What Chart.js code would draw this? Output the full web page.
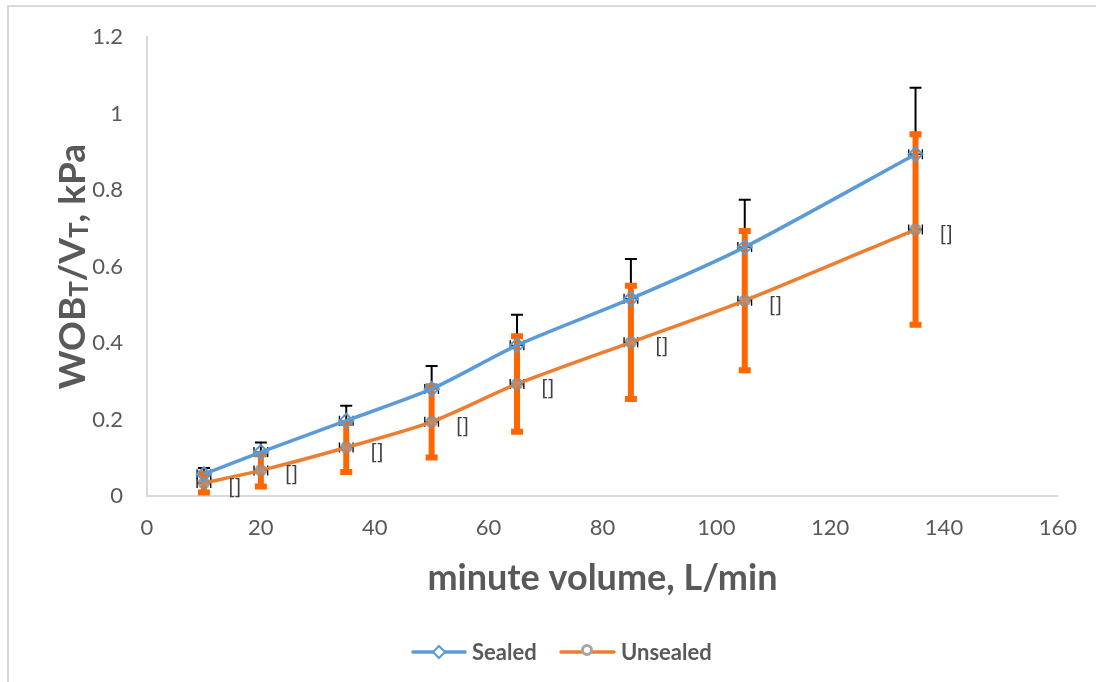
<!DOCTYPE html>
<html>
<head>
<meta charset="utf-8">
<script src="https://cdn.jsdelivr.net/npm/chart.js@4.4.1/dist/chart.umd.min.js"></script>
<style>
  html, body { margin: 0; padding: 0; background: #fff; }
  #wrap { width: 1096px; height: 682px; position: relative; }
</style>
</head>
<body>
<div id="wrap"><canvas id="chart" width="1096" height="682"></canvas></div>
<script>
// data
const minuteVolume = [10, 20, 35, 50, 65, 85, 105, 135];
const sealed = [0.057, 0.115, 0.197, 0.28, 0.394, 0.516, 0.651, 0.894];
const sealedErrUp = [0.016, 0.025, 0.039, 0.06, 0.08, 0.104, 0.124, 0.174];
const unsealed = [0.034, 0.067, 0.127, 0.194, 0.293, 0.402, 0.511, 0.697];
const unsealedErr = [0.025, 0.042, 0.064, 0.093, 0.125, 0.148, 0.182, 0.249];
const xErr = [1.2, 1.2, 1.2, 1.2, 1.2, 1.2, 1.2, 1.2];
const unsealedLabels = ['[]', '[]', '[]', '[]', '[]', '[]', '[]', '[]'];
const xTitle = 'minute volume, L/min';
const seriesNames = ['Sealed', 'Unsealed'];

const blue = '#5B9BD5';
const orange = '#ED7D31';
const errOrange = '#FF6600';
const grey = '#A5A5A5';
const textGrey = '#595959';
const FONT = 'Lato, "Open Sans", sans-serif';

function pts(ys) {
    return minuteVolume.map((x, i) => ({ x: x, y: ys[i] }));
}

// error bars, drawn under the lines and markers
const errorBarPlugin = {
    id: 'errorBars',
    beforeDatasetsDraw(chart) {
        const ctx = chart.ctx;
        const xs = chart.scales.x, ys = chart.scales.y;
        ctx.save();
        // small black x bars on every point
        ctx.strokeStyle = '#000';
        ctx.lineWidth = 1.3;
        [sealed, unsealed].forEach(arr => {
            minuteVolume.forEach((x, i) => {
                const py = ys.getPixelForValue(arr[i]);
                const l = xs.getPixelForValue(x - xErr[i]);
                const r = xs.getPixelForValue(x + xErr[i]);
                ctx.beginPath();
                ctx.moveTo(l, py); ctx.lineTo(r, py);
                ctx.moveTo(l, py - 5); ctx.lineTo(l, py + 5);
                ctx.moveTo(r, py - 5); ctx.lineTo(r, py + 5);
                ctx.stroke();
            });
        });
        // sealed: black, upper only
        ctx.lineWidth = 2;
        minuteVolume.forEach((x, i) => {
            const px = xs.getPixelForValue(x);
            const p0 = ys.getPixelForValue(sealed[i]);
            const p1 = ys.getPixelForValue(sealed[i] + sealedErrUp[i]);
            ctx.beginPath();
            ctx.moveTo(px, p0); ctx.lineTo(px, p1);
            ctx.moveTo(px - 6, p1); ctx.lineTo(px + 6, p1);
            ctx.stroke();
        });
        // unsealed: thick orange, both ways
        ctx.strokeStyle = errOrange;
        ctx.lineWidth = 6;
        minuteVolume.forEach((x, i) => {
            const px = xs.getPixelForValue(x);
            const lo = ys.getPixelForValue(unsealed[i] - unsealedErr[i]);
            const hi = ys.getPixelForValue(unsealed[i] + unsealedErr[i]);
            ctx.beginPath();
            ctx.moveTo(px, lo); ctx.lineTo(px, hi);
            ctx.moveTo(px - 6, lo); ctx.lineTo(px + 6, lo);
            ctx.moveTo(px - 6, hi); ctx.lineTo(px + 6, hi);
            ctx.stroke();
        });
        ctx.restore();
    }
};

// frame, axis titles, point labels and legend
const decorPlugin = {
    id: 'decor',
    beforeDraw(chart) {
        const ctx = chart.ctx;
        ctx.save();
        ctx.fillStyle = '#fff';
        ctx.fillRect(0, 0, chart.width, chart.height);
        ctx.strokeStyle = '#D9D9D9';
        ctx.lineWidth = 2;
        ctx.beginPath();
        ctx.moveTo(8, chart.height);
        ctx.lineTo(8, 6);
        ctx.lineTo(chart.width, 6);
        ctx.stroke();
        ctx.restore();
    },
    afterDraw(chart) {
        const ctx = chart.ctx;
        const area = chart.chartArea;
        const xs = chart.scales.x, ys = chart.scales.y;
        ctx.save();

        // "[]" labels beside the unsealed points
        ctx.fillStyle = '#404040';
        ctx.font = '22px ' + FONT;
        ctx.textBaseline = 'middle';
        ctx.textAlign = 'left';
        minuteVolume.forEach((x, i) => {
            ctx.fillText(unsealedLabels[i], xs.getPixelForValue(x) + 24, ys.getPixelForValue(unsealed[i]) + 4);
        });

        // x title
        ctx.fillStyle = textGrey;
        ctx.font = 'bold 36px ' + FONT;
        ctx.textAlign = 'center';
        ctx.textBaseline = 'alphabetic';
        ctx.fillText(xTitle, (area.left + area.right) / 2, 590);

        // y title with subscripts
        const parts = [
            { t: 'WOB', s: 37, dy: 0 },
            { t: 'T', s: 26, dy: 3 },
            { t: '/V', s: 37, dy: 0 },
            { t: 'T', s: 26, dy: 3 },
            { t: ', kPa', s: 37, dy: 0 }
        ];
        let total = 0;
        parts.forEach(p => {
            ctx.font = 'bold ' + p.s + 'px ' + FONT;
            p.w = ctx.measureText(p.t).width;
            total += p.w;
        });
        ctx.translate(72, (area.top + area.bottom) / 2);
        ctx.rotate(-Math.PI / 2);
        ctx.textAlign = 'left';
        let cx = -total / 2;
        parts.forEach(p => {
            ctx.font = 'bold ' + p.s + 'px ' + FONT;
            ctx.fillText(p.t, cx, 13 + p.dy);
            cx += p.w;
        });
        ctx.setTransform(1, 0, 0, 1, 0, 0);

        // legend
        const ly = 652;
        ctx.font = 'bold 22px ' + FONT;
        ctx.textBaseline = 'middle';
        ctx.textAlign = 'left';
        ctx.lineCap = 'round';
        // sealed
        ctx.strokeStyle = blue;
        ctx.lineWidth = 3.5;
        ctx.beginPath(); ctx.moveTo(413, ly); ctx.lineTo(465, ly); ctx.stroke();
        ctx.lineWidth = 2;
        ctx.fillStyle = '#fff';
        ctx.beginPath();
        ctx.moveTo(439, ly - 6); ctx.lineTo(445, ly); ctx.lineTo(439, ly + 6); ctx.lineTo(433, ly);
        ctx.closePath(); ctx.fill(); ctx.stroke();
        ctx.fillStyle = textGrey;
        ctx.fillText(seriesNames[0], 472, ly + 1);
        // unsealed
        ctx.strokeStyle = orange;
        ctx.lineWidth = 3.5;
        ctx.beginPath(); ctx.moveTo(561, ly); ctx.lineTo(614, ly); ctx.stroke();
        ctx.strokeStyle = grey;
        ctx.lineWidth = 3;
        ctx.fillStyle = '#fff';
        ctx.beginPath(); ctx.arc(587, ly - 2, 4.5, 0, Math.PI * 2); ctx.fill(); ctx.stroke();
        ctx.fillStyle = textGrey;
        ctx.fillText(seriesNames[1], 621, ly + 1);

        ctx.restore();
    }
};

new Chart(document.getElementById('chart').getContext('2d'), {
    type: 'scatter',
    data: {
        datasets: [
            {
                label: seriesNames[0],
                data: pts(sealed),
                showLine: true,
                borderColor: blue,
                borderWidth: 3.5,
                tension: 0.25,
                pointStyle: 'rectRot',
                pointRadius: 7,
                pointBorderWidth: 2,
                pointBorderColor: blue,
                pointBackgroundColor: 'rgba(255,255,255,0)',
                order: 1
            },
            {
                label: seriesNames[1],
                data: pts(unsealed),
                showLine: true,
                borderColor: orange,
                borderWidth: 3.5,
                tension: 0.25,
                pointStyle: 'circle',
                pointRadius: 5,
                pointBorderWidth: 2.5,
                pointBorderColor: 'rgba(150,140,135,0.8)',
                pointBackgroundColor: 'rgba(165,150,140,0.6)',
                order: 2
            }
        ]
    },
    options: {
        responsive: false,
        animation: false,
        layout: { padding: { left: 0, top: 33, right: 33, bottom: 0 } },
        plugins: {
            legend: { display: false },
            tooltip: { enabled: false }
        },
        scales: {
            x: {
                type: 'linear',
                min: 0,
                max: 160,
                grid: { display: false, drawTicks: false },
                border: { color: '#D9D9D9', width: 2 },
                ticks: { stepSize: 20, padding: 19, color: textGrey, font: { family: FONT, size: 22 } },
                afterFit(scale) { scale.height = 186; }
            },
            y: {
                min: 0,
                max: 1.2,
                grid: { display: false, drawTicks: false },
                border: { color: '#D9D9D9', width: 2 },
                ticks: {
                    stepSize: 0.2, padding: 24, color: textGrey, font: { family: FONT, size: 22 },
                    callback: v => String(Math.round(v * 10) / 10)
                },
                afterFit(scale) { scale.width = 147; }
            }
        }
    },
    plugins: [errorBarPlugin, decorPlugin]
});
</script>
</body>
</html>
